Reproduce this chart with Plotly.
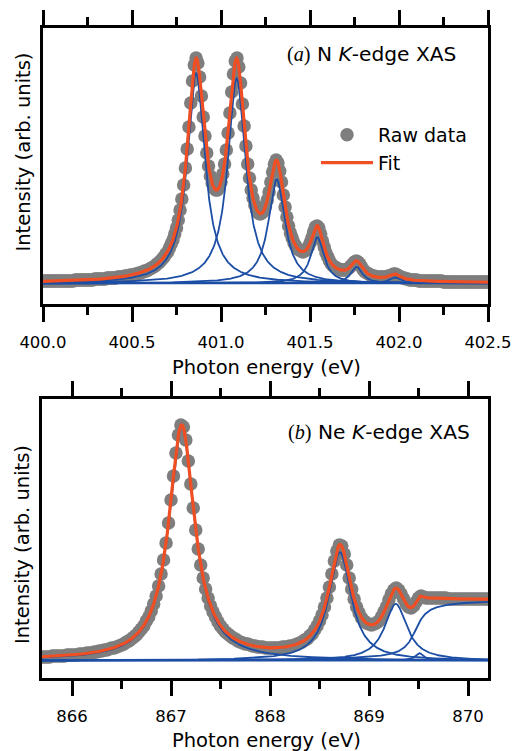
import numpy as np
import plotly.graph_objects as go

# ================= Panel (a): N K-edge XAS =================
# raw data: photon energy grid (eV) and intensity (arb. units)
n_raw_start, n_raw_step = 400.00, 0.01
n_raw_y = [
    23, 23, 23, 23, 23, 23, 23, 23, 23, 23, 23, 23, 23, 23, 23, 23, 23, 23, 24, 24,
    24, 24, 24, 24, 24, 24, 24, 24, 24, 25, 25, 25, 25, 25, 25, 25, 26, 26, 26, 26,
    26, 26, 27, 27, 27, 27, 28, 28, 28, 29, 29, 29, 30, 30, 31, 31, 32, 33, 33, 34,
    35, 36, 37, 38, 40, 41, 43, 45, 47, 50, 52, 56, 60, 64, 70, 76, 84, 94, 105, 119,
    136, 155, 177, 201, 223, 239, 246, 241, 227, 208, 187, 168, 151, 138, 128, 121, 116, 114, 114, 117,
    122, 130, 140, 154, 171, 191, 212, 230, 243, 246, 237, 221, 200, 178, 158, 140, 126, 114, 106, 99,
    94, 91, 90, 91, 93, 98, 104, 112, 122, 132, 140, 144, 141, 133, 122, 109, 97, 87, 78, 71,
    66, 61, 58, 55, 54, 53, 52, 53, 54, 57, 61, 66, 72, 77, 78, 76, 70, 63, 57, 51,
    47, 43, 40, 38, 37, 36, 35, 34, 34, 34, 34, 35, 36, 38, 40, 42, 43, 42, 40, 37,
    34, 32, 31, 30, 29, 28, 28, 27, 27, 27, 27, 27, 27, 27, 28, 28, 29, 30, 30, 29,
    28, 27, 26, 26, 25, 25, 24, 24, 24, 24, 24, 23, 23, 23, 23, 23, 23, 23, 23, 23,
    23, 23, 23, 23, 23, 22, 22, 22, 22, 22, 22, 22, 22, 22, 22, 22, 22, 22, 22, 22,
    22, 22, 22, 22, 22, 22, 22, 22, 22, 22, 22,
]
# fitted Lorentzian components
n_centers = [400.860, 401.088, 401.313, 401.541, 401.762, 401.978]   # eV
n_heights = [210.0, 205.0, 104.0, 46.0, 16.5, 6.0]                  # arb. units
n_hwhm = [0.060, 0.060, 0.0562, 0.045, 0.039, 0.039]                # eV
n_base = 20.7

# ================= Panel (b): Ne K-edge XAS =================
ne_raw_start, ne_raw_step = 865.700, 0.025
ne_raw_y = [
    21, 21, 21, 21, 22, 22, 22, 22, 22, 22, 23, 23, 23, 23, 23, 24, 24, 24, 25, 25,
    25, 26, 26, 27, 27, 28, 28, 29, 30, 30, 31, 32, 33, 34, 36, 37, 39, 41, 43, 46,
    49, 52, 57, 61, 67, 74, 82, 92, 104, 118, 135, 155, 178, 202, 225, 243, 253, 251, 238, 217,
    194, 170, 148, 129, 113, 100, 89, 80, 72, 66, 61, 56, 52, 49, 46, 44, 42, 40, 39, 37,
    36, 35, 34, 34, 33, 32, 32, 31, 31, 31, 30, 30, 30, 30, 30, 30, 30, 31, 31, 31,
    32, 32, 33, 34, 35, 36, 38, 39, 42, 44, 48, 52, 57, 63, 71, 80, 91, 104, 117, 127,
    133, 132, 124, 113, 100, 89, 79, 71, 65, 60, 57, 55, 54, 53, 54, 55, 57, 61, 66, 71,
    78, 84, 88, 90, 88, 84, 79, 74, 71, 70, 72, 76, 80, 82, 81, 80, 80, 80, 80, 80,
    80, 80, 80, 80, 79, 79, 79, 79, 79, 79, 79, 79, 79, 79, 79, 79, 79, 79, 79, 79,
    79,
]
ne_centers = [867.108, 868.707, 869.270, 869.510]
ne_heights = [234.0, 108.3, 56.7, 7.3]
ne_hwhm = [0.157, 0.136, 0.136, 0.05]
ne_step = [869.47, 61.0, 0.09]   # edge step: centre (eV), height, width (eV)
ne_base = 17.5

x_ticks_a = [400.0, 400.5, 401.0, 401.5, 402.0, 402.5]
x_ticks_b = [866, 867, 868, 869, 870]

GRAY = "rgb(126,126,126)"
RED = "rgb(240,78,35)"
BLUE = "rgb(28,78,165)"
FONT = "DejaVu Sans"
W, H = 512, 751


def lor(x, c, a, g):
    return a / (1.0 + ((x - c) / g) ** 2)


def fx(px):
    return px / W


def fy(py):
    return 1 - py / H


fig = go.Figure()

# ---- panel a ----
rx_a = np.round(n_raw_start + n_raw_step * np.arange(len(n_raw_y)), 3)
xa = np.linspace(400.0, 402.5, 1251)
comps_a = [n_base + lor(xa, c, a, g) for c, a, g in zip(n_centers, n_heights, n_hwhm)]
fit_a = n_base + sum(lor(xa, c, a, g) for c, a, g in zip(n_centers, n_heights, n_hwhm))

fig.add_trace(go.Scatter(x=rx_a, y=n_raw_y, mode="markers", name="Raw data",
                         marker=dict(color=GRAY, size=13.5), xaxis="x", yaxis="y"))
fig.add_trace(go.Scatter(x=[400.0, 402.5], y=[n_base, n_base], mode="lines",
                         line=dict(color=BLUE, width=1.8), showlegend=False,
                         xaxis="x", yaxis="y"))
for cy in comps_a:
    fig.add_trace(go.Scatter(x=xa, y=cy, mode="lines", line=dict(color=BLUE, width=1.8),
                             showlegend=False, xaxis="x", yaxis="y"))
fig.add_trace(go.Scatter(x=xa, y=fit_a, mode="lines", name="Fit",
                         line=dict(color=RED, width=3.2), xaxis="x", yaxis="y"))

# ---- panel b ----
rx_b = np.round(ne_raw_start + ne_raw_step * np.arange(len(ne_raw_y)), 3)
xb = np.linspace(865.65, 870.25, 2301)
step_b = ne_step[1] * (0.5 + np.arctan((xb - ne_step[0]) / ne_step[2]) / np.pi)
comps_b = [ne_base + lor(xb, c, a, g) for c, a, g in zip(ne_centers, ne_heights, ne_hwhm)]
comps_b.append(ne_base + step_b)
fit_b = ne_base + step_b + sum(lor(xb, c, a, g) for c, a, g in zip(ne_centers, ne_heights, ne_hwhm))

fig.add_trace(go.Scatter(x=rx_b, y=ne_raw_y, mode="markers", marker=dict(color=GRAY, size=13.5),
                         showlegend=False, xaxis="x2", yaxis="y2"))
fig.add_trace(go.Scatter(x=[865.65, 870.25], y=[ne_base, ne_base], mode="lines",
                         line=dict(color=BLUE, width=1.8), showlegend=False,
                         xaxis="x2", yaxis="y2"))
for cy in comps_b:
    fig.add_trace(go.Scatter(x=xb, y=cy, mode="lines", line=dict(color=BLUE, width=1.8),
                             showlegend=False, xaxis="x2", yaxis="y2"))
fig.add_trace(go.Scatter(x=xb, y=fit_b, mode="lines", line=dict(color=RED, width=3.2),
                         showlegend=False, xaxis="x2", yaxis="y2"))

axis_common = dict(showline=True, linewidth=2.5, linecolor="black", showgrid=False,
                   zeroline=False, ticks="outside", ticklen=15, tickwidth=2.5,
                   tickcolor="black", mirror="ticks", automargin=False,
                   ticklabelstandoff=6,
                   tickfont=dict(family=FONT, size=16.5, color="black"))
yaxis_common = dict(showline=True, linewidth=2.5, linecolor="black", showgrid=False,
                    zeroline=False, ticks="", showticklabels=False, mirror=True,
                    automargin=False)

fig.update_layout(
    width=W, height=H, margin=dict(l=0, r=0, t=0, b=0, pad=0, autoexpand=False),
    paper_bgcolor="white", plot_bgcolor="white",
    xaxis=dict(domain=[fx(43), fx(488)], anchor="y", range=[400.0, 402.5],
               tickvals=x_ticks_a, ticktext=[f"{v:.1f}" for v in x_ticks_a],
               minor=dict(dtick=0.25, tick0=400.0, ticks="outside", ticklen=8,
                          tickwidth=2.5, tickcolor="black"),
               **axis_common),
    yaxis=dict(domain=[fy(304), fy(28)], anchor="x", range=[0, 276], **yaxis_common),
    xaxis2=dict(domain=[fx(42), fx(488)], anchor="y2", range=[865.697, 870.202],
                tickvals=x_ticks_b, ticktext=[str(v) for v in x_ticks_b],
                minor=dict(dtick=0.5, tick0=866, ticks="outside", ticklen=8,
                           tickwidth=2.5, tickcolor="black"),
                **axis_common),
    yaxis2=dict(domain=[fy(678), fy(399)], anchor="x2", range=[0, 279], **yaxis_common),
    showlegend=True,
    legend=dict(x=fx(316), y=fy(116), xanchor="left", yanchor="top",
                bgcolor="rgba(0,0,0,0)", itemwidth=52,
                font=dict(family=FONT, size=19, color="black")),
    annotations=[
        dict(text="Intensity (arb. units)", textangle=-90, x=fx(22.5), y=fy(152),
             xref="paper", yref="paper", showarrow=False, xanchor="center", yanchor="middle",
             font=dict(family=FONT, size=19.5, color="black")),
        dict(text="Intensity (arb. units)", textangle=-90, x=fx(22), y=fy(545),
             xref="paper", yref="paper", showarrow=False, xanchor="center", yanchor="middle",
             font=dict(family=FONT, size=19.5, color="black")),
        dict(text="Photon energy (eV)", x=fx(266), y=fy(367), xref="paper", yref="paper",
             showarrow=False, xanchor="center", yanchor="middle",
             font=dict(family=FONT, size=19.5, color="black")),
        dict(text="Photon energy (eV)", x=fx(266), y=fy(740), xref="paper", yref="paper",
             showarrow=False, xanchor="center", yanchor="middle",
             font=dict(family=FONT, size=19.5, color="black")),
        dict(text="<span style='font-family:Liberation Serif'>(<i>a</i>)</span> N <i>K</i>-edge XAS",
             x=fx(285), y=fy(54), xref="paper", yref="paper", showarrow=False,
             xanchor="left", yanchor="middle",
             font=dict(family=FONT, size=20.2, color="black")),
        dict(text="<span style='font-family:Liberation Serif'>(<i>b</i>)</span> Ne <i>K</i>-edge XAS",
             x=fx(286), y=fy(432), xref="paper", yref="paper", showarrow=False,
             xanchor="left", yanchor="middle",
             font=dict(family=FONT, size=20.2, color="black")),
    ],
)

fig.write_html("out.html")
